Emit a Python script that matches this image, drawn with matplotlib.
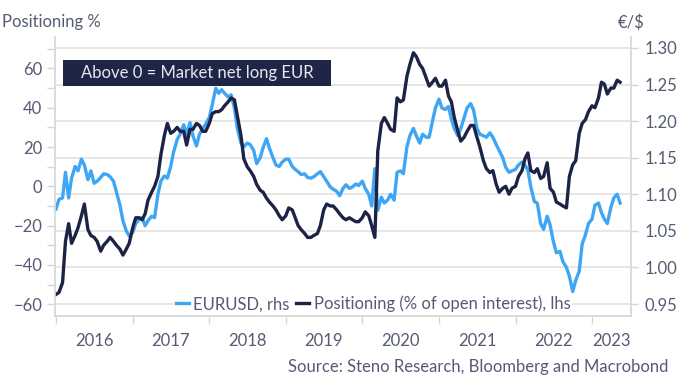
import matplotlib
matplotlib.use('Agg')
import matplotlib.pyplot as plt
import matplotlib.dates as mdates
from matplotlib.patches import Rectangle
from matplotlib.ticker import MultipleLocator, FormatStrFormatter, FixedLocator, NullFormatter
import pandas as pd

plt.rcParams['font.family'] = ['Lato', 'DejaVu Sans']

# semi-monthly observations, 2016-01-01 .. 2023-05-15
dates = pd.date_range('2016-01-01', periods=178, freq='SMS')

positioning = [
    -55, -54, -49, -28, -19, -29, -25, -21, -15, -9, -22, -25, -26, -28, -33, -30, -28, -26, -28, -30, -32, -35, -32, -29,
    -21, -16, -16, -17, -14, -7, -3, 0, 5, 16, 26, 32, 27, 28, 30, 28, 28, 21, 29, 29, 32, 31, 28, 28,
    32, 37, 38, 38, 39, 41, 43, 45, 44, 36, 26, 14, 10, 8, 5, 1, -2, -3, -6, -8, -10, -12, -15, -17,
    -15, -11, -12, -16, -20, -22, -24, -26, -26, -25, -24, -20, -12, -9, -10, -10, -12, -14, -16, -17, -16, -17, -18, -18,
    -16, -13, -15, -20, -26, 18, 32, 35, 32, 29, 28, 45, 43, 44, 56, 62, 68, 66, 62, 60, 55, 51, 53, 55,
    51, 51, 54, 46, 43, 35, 28, 23, 25, 28, 31, 31, 25, 20, 13, 9, 7, 8, 1, -3, -1, 0, -4, -1,
    0, 5, 8, 14, 17, 8, 7, 9, 4, 5, 12, -1, -3, -8, -9, -10, -11, 5, 11, 13, 27, 32, 34, 38,
    41, 40, 45, 53, 52, 47, 50, 50, 54, 53,
]

eurusd = [
    1.080, 1.093, 1.095, 1.130, 1.095, 1.122, 1.138, 1.132, 1.148, 1.140, 1.120, 1.132,
    1.115, 1.118, 1.123, 1.128, 1.127, 1.124, 1.118, 1.103, 1.085, 1.064, 1.050, 1.043,
    1.048, 1.060, 1.066, 1.068, 1.057, 1.064, 1.070, 1.068, 1.100, 1.118, 1.125, 1.122,
    1.138, 1.158, 1.175, 1.182, 1.195, 1.182, 1.198, 1.180, 1.166, 1.182, 1.190, 1.196,
    1.205, 1.222, 1.245, 1.238, 1.243, 1.238, 1.233, 1.236, 1.218, 1.190, 1.170, 1.165,
    1.170, 1.168, 1.160, 1.142, 1.150, 1.164, 1.176, 1.163, 1.150, 1.140, 1.138, 1.144,
    1.148, 1.148, 1.138, 1.134, 1.131, 1.127, 1.128, 1.123, 1.122, 1.124, 1.128, 1.131,
    1.124, 1.118, 1.110, 1.107, 1.104, 1.098, 1.108, 1.113, 1.108, 1.110, 1.114, 1.112,
    1.118, 1.108, 1.100, 1.084, 1.135, 1.078, 1.096, 1.088, 1.092, 1.100, 1.092, 1.130,
    1.132, 1.128, 1.165, 1.180, 1.190, 1.180, 1.170, 1.182, 1.178, 1.178, 1.200, 1.218,
    1.230, 1.218, 1.216, 1.220, 1.203, 1.190, 1.180, 1.190, 1.205, 1.218, 1.224, 1.215,
    1.190, 1.182, 1.180, 1.178, 1.184, 1.178, 1.168, 1.160, 1.150, 1.137, 1.130, 1.132,
    1.134, 1.140, 1.144, 1.140, 1.133, 1.110, 1.090, 1.088, 1.060, 1.052, 1.070, 1.058,
    1.035, 1.020, 1.022, 1.008, 1.000, 0.988, 0.967, 0.982, 0.995, 1.032, 1.045, 1.060,
    1.066, 1.085, 1.088, 1.075, 1.066, 1.060, 1.082, 1.095, 1.100, 1.088,
]

years = [2016, 2017, 2018, 2019, 2020, 2021, 2022, 2023]
lhs_ticks = [-60, -40, -20, 0, 20, 40, 60]
rhs_ticks = [0.95, 1.00, 1.05, 1.10, 1.15, 1.20, 1.25, 1.30]

blue = '#3ea6f5'
navy = '#1c2344'
txt = '#555b74'
light = '#d6d6d6'
fs = 12

fig = plt.figure(figsize=(6.8, 3.89), dpi=100)
ax = fig.add_axes([55 / 680, 73 / 389, 576 / 680, 279 / 389])
ax2 = ax.twinx()
ax.set_zorder(ax2.get_zorder() + 1)
ax.patch.set_visible(False)

l1, = ax2.plot(dates, eurusd, color=blue, lw=2.4, label='EURUSD, rhs')
l2, = ax.plot(dates, positioning, color=navy, lw=2.4, label='Positioning (% of open interest), lhs')

x0 = mdates.date2num(pd.Timestamp('2015-12-27'))
x1 = mdates.date2num(pd.Timestamp('2023-07-06'))
ax.set_xlim(x0, x1)
ax.set_ylim(-66, 76)
ax2.set_ylim(0.9336, 1.315)

# left axis
ax.yaxis.set_major_locator(FixedLocator(lhs_ticks))
ax.yaxis.set_minor_locator(MultipleLocator(10))
ax.tick_params(axis='y', which='both', length=6, width=1, color=light,
               labelcolor=txt, labelsize=fs, pad=3)

# right axis
ax2.yaxis.set_major_locator(FixedLocator(rhs_ticks))
ax2.yaxis.set_major_formatter(FormatStrFormatter('%.2f'))
ax2.tick_params(axis='y', length=5, width=1, color=light,
                labelcolor=txt, labelsize=fs, pad=5)
ax2.grid(axis='y', color='#e4e4e4', lw=1.3)
ax2.set_axisbelow(True)

# x axis: tick marks at year starts, labels mid-year
starts = [mdates.date2num(pd.Timestamp(f'{y}-01-01')) for y in years]
mids = [s + 182 for s in starts[:-1]] + [(starts[-1] + x1) / 2]
ax.xaxis.set_major_locator(FixedLocator(starts))
ax.xaxis.set_major_formatter(NullFormatter())
ax.xaxis.set_minor_locator(FixedLocator(mids))
ax.set_xticklabels([str(y) for y in years], minor=True)
ax.tick_params(axis='x', which='major', length=6, width=1, color=light)
ax.tick_params(axis='x', which='minor', length=0, labelcolor=txt, labelsize=fs, pad=12)

for a in (ax, ax2):
    a.spines['top'].set_visible(False)
    for s in ('left', 'right', 'bottom'):
        a.spines[s].set_color(light)
        a.spines[s].set_linewidth(1.2)
ax.spines['right'].set_visible(False)
ax2.spines['left'].set_visible(False)
ax2.spines['bottom'].set_visible(False)

# annotation box
ax.add_patch(Rectangle((0.0139, 0.824), 0.465, 0.094, transform=ax.transAxes,
                       facecolor='#1e2546', edgecolor='none', zorder=5))
ax.text(0.2465, 0.871, 'Above 0 = Market net long EUR', transform=ax.transAxes,
        ha='center', va='center', color='#e6e8f0', fontsize=fs, zorder=6)

leg = ax.legend(handles=[l1, l2], loc='center', bbox_to_anchor=(0.552, 0.043),
                ncol=2, frameon=True, fontsize=fs, handlelength=0.8,
                handletextpad=0.25, columnspacing=0.4, borderpad=0.1,
                labelcolor=txt)
leg.get_frame().set_facecolor('white')
leg.get_frame().set_edgecolor('none')
leg.get_frame().set_alpha(1)

fig.text(2 / 680, 1 - 22 / 389, 'Positioning %', ha='left', va='center', fontsize=fs, color=txt)
fig.text(631 / 680, 1 - 23 / 389, '€/$', ha='center', va='center', fontsize=fs, color=txt)
fig.text(668 / 680, 1 - 367 / 389, 'Source: Steno Research, Bloomberg and Macrobond',
         ha='right', va='center', fontsize=fs, color=txt)

fig.savefig('out.png', dpi=100, facecolor='white')
